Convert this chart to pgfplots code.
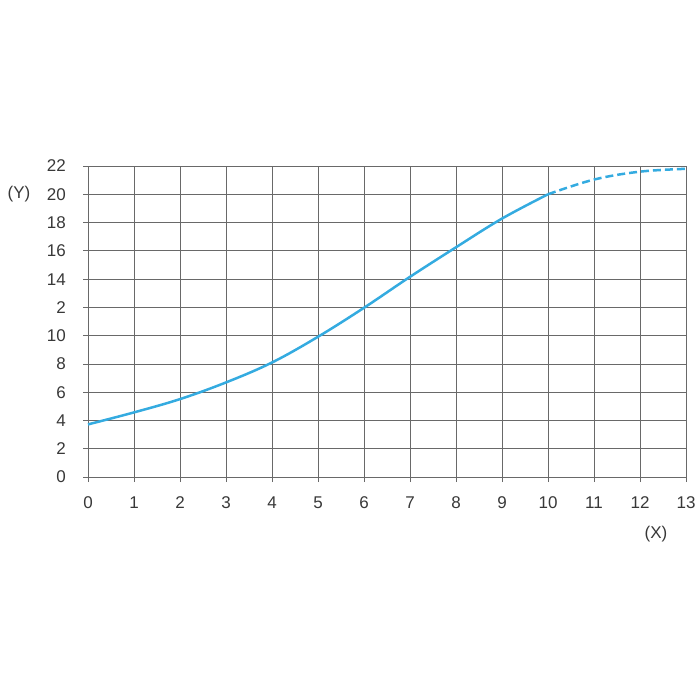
\documentclass[border=0pt]{standalone}
\usepackage{fontspec}
\setmainfont{Liberation Sans}
\usepackage{pgfplots}
\pgfplotsset{compat=1.18}
\definecolor{gridc}{RGB}{105,105,105}
\definecolor{curve}{RGB}{52,171,224}
\begin{document}
\begin{tikzpicture}[x=1bp,y=1bp]
\path[use as bounding box] (-88,-223) rectangle (612,477);
\begin{axis}[
  at={(0,0)}, anchor=south west,
  scale only axis, width=598bp, height=311bp,
  xmin=0, xmax=13, ymin=0, ymax=22,
  xtick={0,1,...,13}, ytick={0,2,...,22},
  yticklabels={0,2,4,6,8,10,2,14,16,18,20,22},
  grid=major,
  major grid style={draw=gridc, line width=0.7bp},
  axis line style={draw=gridc, line width=0.7bp},
  tick style={draw=gridc, line width=0.7bp},
  tick align=outside,
  major tick length=5bp,
  xtick pos=bottom, ytick pos=left,
  /pgf/number format/assume math mode=true,
  ticklabel style={font=\fontsize{17bp}{20bp}\selectfont, text=black!78},
  yticklabel style={anchor=base east, inner sep=0pt, xshift=-17bp, yshift=-6bp},
  xticklabel style={anchor=base, inner sep=0pt, yshift=-26bp},
  clip=false,
]
\addplot[curve, line width=2.5bp, smooth, tension=0.6] coordinates {
 (0,3.72) (1,4.57) (2,5.51) (3,6.69) (4,8.1) (5,9.92) (6,11.97) (7,14.16) (8,16.25) (9,18.28) (10,20.0)
};
\addplot[curve, line width=2.5bp, smooth, tension=0.6, dash pattern=on 8bp off 4bp] coordinates {
 (10,20.0) (11,21.04) (12,21.6) (13,21.8)
};
\end{axis}
\node[font=\fontsize{17bp}{20bp}\selectfont, text=black!78] at (-69,283) {(Y)};
\node[font=\fontsize{17bp}{20bp}\selectfont, text=black!78] at (568,-57) {(X)};
\end{tikzpicture}
\end{document}
